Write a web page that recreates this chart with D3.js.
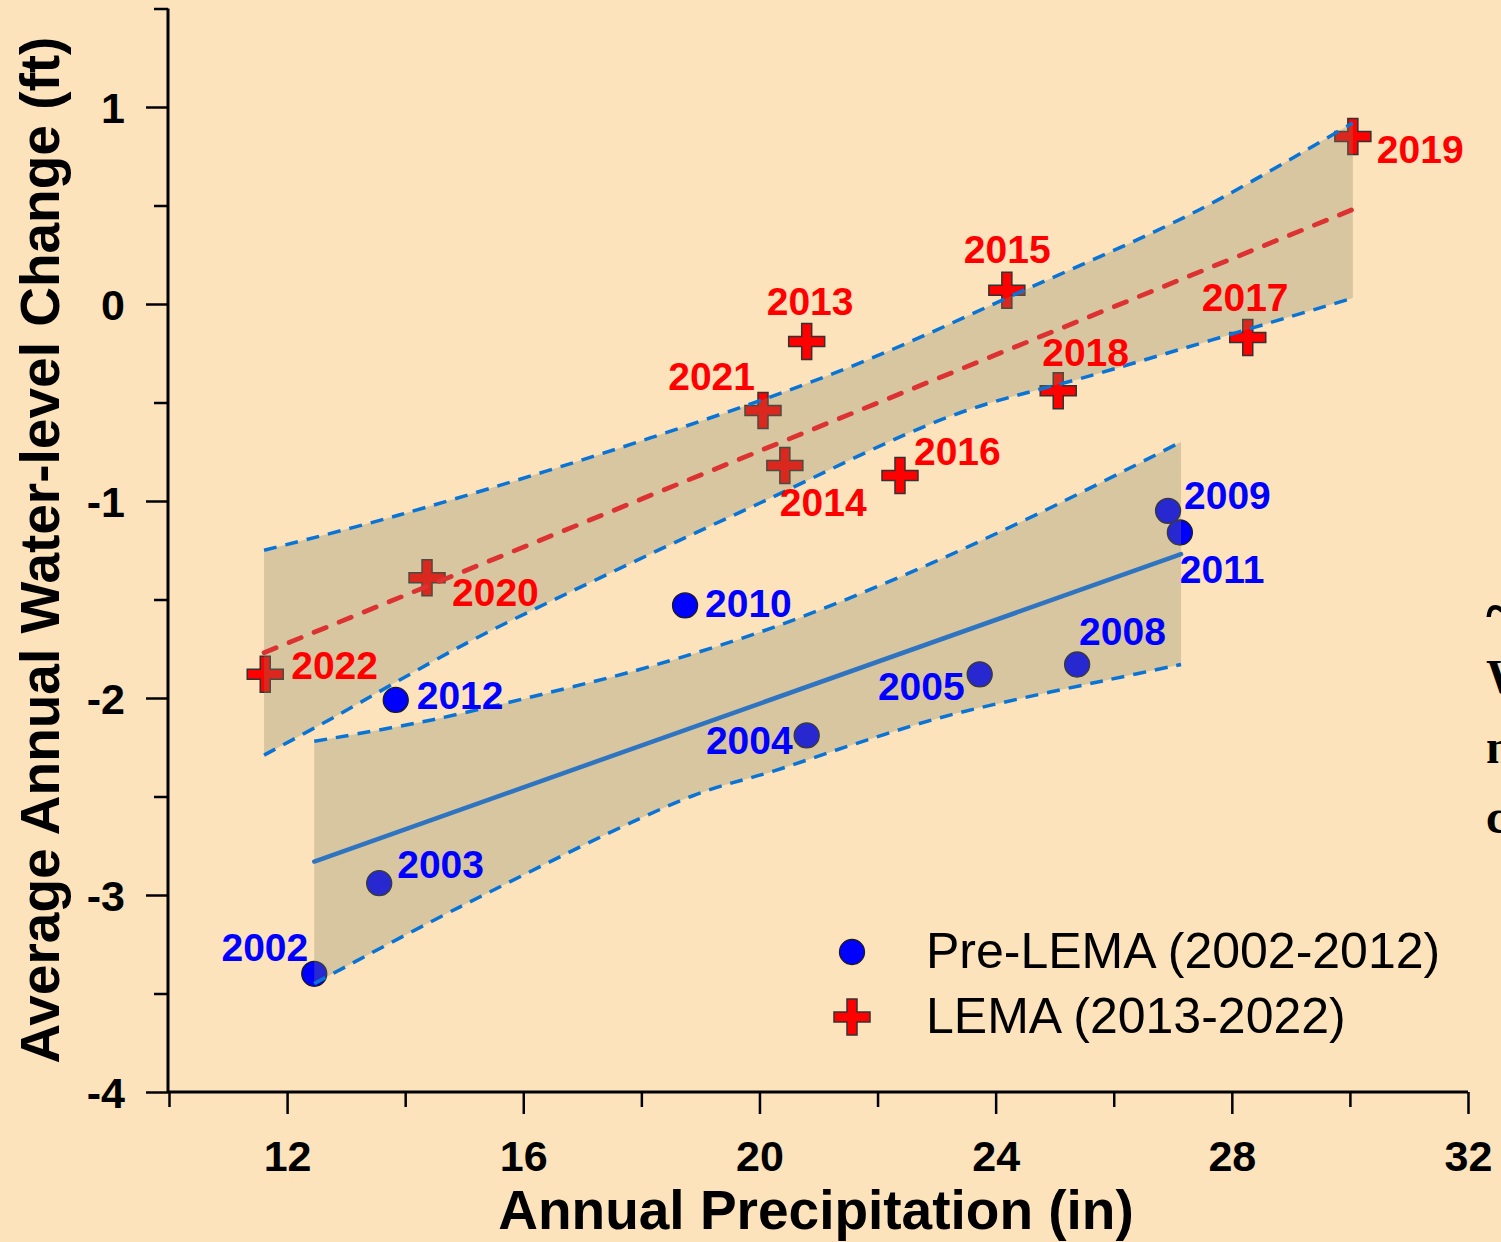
<!DOCTYPE html>
<html>
<head>
<meta charset="utf-8">
<script src="https://cdn.jsdelivr.net/npm/d3@7"></script>
<style>
  html, body { margin: 0; padding: 0; background: #FCE3BC; overflow: hidden; }
  svg { display: block; font-family: "Liberation Sans", Arial, sans-serif; }
</style>
</head>
<body>
<div id="chart"></div>
<script>
// Water-level change vs. precipitation, pre-LEMA vs LEMA periods
const WIDTH = 1501;
const HEIGHT = 1242;

// Pre-LEMA (2002-2012) points
const preYears = [2002, 2003, 2004, 2005, 2008, 2009, 2010, 2011, 2012];
const prePrecip = [12.46, 13.56, 20.80, 23.73, 25.38, 26.92, 18.74, 27.12, 13.84];
const preChange = [-3.40, -2.94, -2.19, -1.88, -1.83, -1.05, -1.53, -1.16, -2.01];

// LEMA (2013-2022) points
const lemaYears = [2013, 2014, 2015, 2016, 2017, 2018, 2019, 2020, 2021, 2022];
const lemaPrecip = [20.80, 20.43, 24.19, 22.38, 28.27, 25.06, 30.05, 14.37, 20.06, 11.63];
const lemaChange = [-0.19, -0.82, 0.07, -0.87, -0.17, -0.44, 0.85, -1.39, -0.54, -1.88];

// fitted lines
const preFitX = [12.46, 27.14];
const preFitY = [-2.83, -1.27];
const lemaFitX = [11.61, 30.05];
const lemaFitY = [-1.77, 0.48];

// confidence band edges
const preUpperX = [12.46, 14.47, 16.74, 18.15, 20.25, 22.50, 24.75, 27.14];
const preUpperY = [-2.22, -2.11, -1.95, -1.84, -1.64, -1.37, -1.06, -0.70];
const preLowerX = [12.46, 14.93, 18.84, 20.25, 21.65, 23.06, 24.46, 25.87, 27.14];
const preLowerY = [-3.45, -3.06, -2.50, -2.37, -2.23, -2.10, -2.00, -1.91, -1.83];

const lemaUpperX = [11.61, 13.91, 18.15, 21.53, 24.41, 27.46, 30.05];
const lemaUpperY = [-1.25, -1.07, -0.68, -0.32, 0.06, 0.48, 0.92];
const lemaLowerX = [11.61, 12.78, 15.05, 17.30, 20.01, 23.23, 25.77, 30.05];
const lemaLowerY = [-2.29, -2.10, -1.72, -1.39, -1.01, -0.57, -0.35, 0.03];

// axis ticks
const xTicks = [10, 12, 14, 16, 18, 20, 22, 24, 26, 28, 30, 32];
const xTickLabels = [12, 16, 20, 24, 28, 32];
const yTicks = [-4, -3.5, -3, -2.5, -2, -1.5, -1, -0.5, 0, 0.5, 1, 1.5];
const yTickLabels = [-4, -3, -2, -1, 0, 1];

// label placement (pixel offsets from the marker, anchor)
const labelPos = {
  2002: [-6, -13, 'end'], 2003: [18, -5, 'start'], 2004: [-14, 19, 'end'],
  2005: [-15, 26, 'end'], 2008: [2, -20, 'start'], 2009: [16, -2, 'start'],
  2010: [20, 12, 'start'], 2011: [0, 50, 'start'], 2012: [21, 9, 'start'],
  2013: [-40, -26, 'start'], 2014: [-5, 50, 'start'], 2015: [-43, -27, 'start'],
  2016: [14, -10, 'start'], 2017: [-46, -26, 'start'], 2018: [-16, -25, 'start'],
  2019: [24, 26, 'start'], 2020: [25, 28, 'start'], 2021: [-8, -20, 'end'],
  2022: [26, 5, 'start']
};

const zip = (xs, ys) => xs.map((x, i) => [x, ys[i]]);

const svg = d3.select('#chart')
  .append('svg')
  .attr('width', WIDTH)
  .attr('height', HEIGHT);

svg.append('rect').attr('width', WIDTH).attr('height', HEIGHT).attr('fill', '#FCE3BC');

const x = d3.scaleLinear().domain([10, 32]).range([169, 1468]);
const y = d3.scaleLinear().domain([-4, 1.5]).range([1092, 8.5]);

const line = d3.line().x(d => x(d[0])).y(d => y(d[1]));
const curve = d3.line().x(d => x(d[0])).y(d => y(d[1])).curve(d3.curveCatmullRom);

// points (under the band)
const crossPath = (s, t) => {
  const a = s / 2, b = t / 2;
  return `M${-b},${-a}H${b}V${-b}H${a}V${b}H${b}V${a}H${-b}V${b}H${-a}V${-b}H${-b}Z`;
};

const pre = zip(prePrecip, preChange).map((d, i) => ({x: d[0], y: d[1], year: preYears[i]}));
const lema = zip(lemaPrecip, lemaChange).map((d, i) => ({x: d[0], y: d[1], year: lemaYears[i]}));

svg.append('g').selectAll('circle')
  .data(pre)
  .join('circle')
  .attr('cx', d => x(d.x))
  .attr('cy', d => y(d.y))
  .attr('r', 12.5)
  .attr('fill', '#0000FF')
  .attr('stroke', '#1a1a1a')
  .attr('stroke-width', 1.3);

svg.append('g').selectAll('path')
  .data(lema)
  .join('path')
  .attr('transform', d => `translate(${x(d.x)},${y(d.y)})`)
  .attr('d', crossPath(36, 10))
  .attr('fill', '#FF0000')
  .attr('stroke', '#333')
  .attr('stroke-width', 1.5);

// confidence bands
function bandPath(ux, uy, lx, ly) {
  const up = curve(zip(ux, uy));
  const low = curve(zip(lx, ly).reverse());
  return up + 'L' + low.slice(1) + 'Z';
}

const bands = [
  [preUpperX, preUpperY, preLowerX, preLowerY],
  [lemaUpperX, lemaUpperY, lemaLowerX, lemaLowerY]
];

svg.append('g').selectAll('path')
  .data(bands)
  .join('path')
  .attr('d', d => bandPath(...d))
  .attr('fill', 'rgb(133,133,98)')
  .attr('fill-opacity', 0.3)
  .attr('stroke', 'none');

// band edges, dashed blue
const edges = [
  zip(preUpperX, preUpperY), zip(preLowerX, preLowerY),
  zip(lemaUpperX, lemaUpperY), zip(lemaLowerX, lemaLowerY)
];
svg.append('g').selectAll('path')
  .data(edges)
  .join('path')
  .attr('d', curve)
  .attr('fill', 'none')
  .attr('stroke', '#0A74D6')
  .attr('stroke-width', 3.5)
  .attr('stroke-dasharray', '13,9');

// fitted lines
svg.append('path')
  .attr('d', line(zip(preFitX, preFitY)))
  .attr('fill', 'none')
  .attr('stroke', '#2F74C0')
  .attr('stroke-width', 4.5)
  .attr('stroke-linecap', 'round');

svg.append('path')
  .attr('d', line(zip(lemaFitX, lemaFitY)))
  .attr('fill', 'none')
  .attr('stroke', '#DC3232')
  .attr('stroke-width', 4.8)
  .attr('stroke-linecap', 'round')
  .attr('stroke-dasharray', '13,14');

// year labels
function addLabels(data, color) {
  svg.append('g').selectAll('text')
    .data(data)
    .join('text')
    .attr('x', d => x(d.x) + labelPos[d.year][0])
    .attr('y', d => y(d.y) + labelPos[d.year][1])
    .attr('text-anchor', d => labelPos[d.year][2])
    .attr('fill', color)
    .style('font-size', '39px')
    .style('font-weight', 'bold')
    .text(d => d.year);
}
addLabels(pre, '#0000FF');
addLabels(lema, '#FF0000');

// axes
const xAxis = svg.append('g')
  .attr('transform', 'translate(0,1092)')
  .call(d3.axisBottom(x).tickValues(xTicks).tickSize(15).tickSizeOuter(0)
    .tickFormat(d => xTickLabels.includes(d) ? String(d) : ''));
xAxis.select('.domain').attr('stroke-width', 3).attr('d', 'M168,0H1468');
xAxis.selectAll('.tick line').attr('stroke-width', 2.5)
  .attr('y2', d => xTickLabels.includes(d) ? 22 : 15);
xAxis.selectAll('.tick text')
  .attr('y', 79).attr('dy', 0)
  .attr('fill', '#000')
  .style('font-size', '43px')
  .style('font-weight', 'bold')
  .style('font-family', '"Liberation Sans", Arial, sans-serif');

const yAxis = svg.append('g')
  .attr('transform', 'translate(168,0)')
  .call(d3.axisLeft(y).tickValues(yTicks).tickSize(14).tickSizeOuter(0)
    .tickFormat(d => yTickLabels.includes(d) ? String(d) : ''));
yAxis.select('.domain').attr('stroke-width', 3).attr('d', 'M0,8.5V1093');
yAxis.selectAll('.tick line').attr('stroke-width', 2.5)
  .attr('x2', d => yTickLabels.includes(d) ? -22 : -14);
yAxis.selectAll('.tick text')
  .attr('x', -43).attr('dy', '0.36em')
  .attr('fill', '#000')
  .style('font-size', '43px')
  .style('font-weight', 'bold')
  .style('font-family', '"Liberation Sans", Arial, sans-serif');

// axis titles
svg.append('text')
  .attr('x', 816)
  .attr('y', 1229)
  .attr('text-anchor', 'middle')
  .style('font-size', '55px')
  .style('font-weight', 'bold')
  .text('Annual Precipitation (in)');

svg.append('text')
  .attr('transform', 'translate(59,550) rotate(-90)')
  .attr('text-anchor', 'middle')
  .style('font-size', '55px')
  .style('font-weight', 'bold')
  .text('Average Annual Water-level Change (ft)');

// legend
const legendItems = ['Pre-LEMA (2002-2012)', 'LEMA (2013-2022)'];
const legend = svg.append('g');
legend.append('circle')
  .attr('cx', 852).attr('cy', 952).attr('r', 12.5)
  .attr('fill', '#0000FF').attr('stroke', '#1a1a1a').attr('stroke-width', 1.3);
legend.append('path')
  .attr('transform', 'translate(852,1017)')
  .attr('d', crossPath(36, 10))
  .attr('fill', '#FF0000').attr('stroke', '#333').attr('stroke-width', 1.5);
legend.selectAll('text')
  .data(legendItems)
  .join('text')
  .attr('x', 926)
  .attr('y', (d, i) => 968 + i * 65)
  .style('font-size', '50px')
  .text(d => d);

// cut-off text at the right edge
const sideText = ['~', 'W', 'n', 'c'];
svg.append('g').selectAll('text')
  .data(sideText)
  .join('text')
  .attr('x', 1486)
  .attr('y', (d, i) => i === 0 ? 632 : 693 + (i - 1) * 70)
  .style('font-family', '"Liberation Serif", "Times New Roman", serif')
  .style('font-size', (d, i) => i === 0 ? '64px' : '48px')
  .style('font-weight', 'bold')
  .text(d => d);
</script>
</body>
</html>
